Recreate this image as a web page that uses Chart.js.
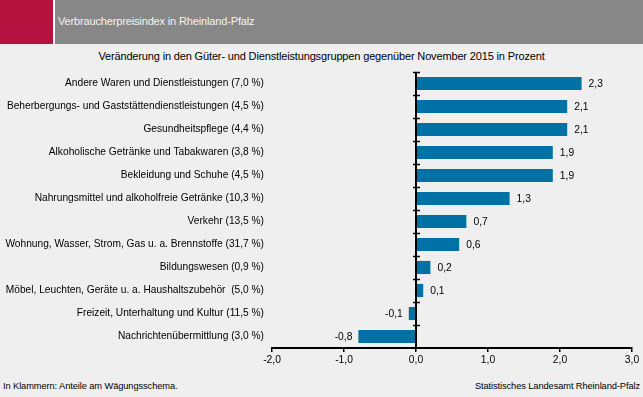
<!DOCTYPE html>
<html><head><meta charset="utf-8">
<script src="https://cdn.jsdelivr.net/npm/chart.js@4/dist/chart.umd.min.js"></script>
<style>
html,body{margin:0;padding:0;}
body{width:643px;height:397px;background:#eeefee;position:relative;overflow:hidden;font-family:"Liberation Sans",Arial,sans-serif;}
#hdr{position:absolute;left:55px;top:0;width:588px;height:44px;background:#878787;}
#red{position:absolute;left:0;top:0;width:53px;height:44px;background:#b5123f;}
#gap{position:absolute;left:53px;top:0;width:2px;height:44px;background:#ffffff;}
#htxt{position:absolute;left:58px;top:15px;font-size:11px;color:#f4f4f4;letter-spacing:-0.15px;}
#title{position:absolute;left:0;width:643px;text-align:center;top:50px;font-size:11px;color:#000;letter-spacing:-0.15px;}
#foot1{position:absolute;left:3px;top:381px;font-size:9.3px;color:#000;letter-spacing:-0.1px;}
#foot2{position:absolute;right:3px;top:381px;font-size:9.3px;color:#000;letter-spacing:-0.1px;}
canvas{position:absolute;left:0;top:0;}
</style></head>
<body>
<div id="red"></div><div id="gap"></div><div id="hdr"></div>
<div id="htxt">Verbraucherpreisindex in Rheinland-Pfalz</div>
<div id="title">Veränderung in den Güter- und Dienstleistungsgruppen gegenüber November 2015 in Prozent</div>
<div id="foot1">In Klammern: Anteile am Wägungsschema.</div>
<div id="foot2">Statistisches Landesamt Rheinland-Pfalz</div>
<canvas id="c" width="643" height="397"></canvas>
<script>
const categories = [
  "Andere Waren und Dienstleistungen (7,0 %)",
  "Beherbergungs- und Gaststättendienstleistungen (4,5 %)",
  "Gesundheitspflege (4,4 %)",
  "Alkoholische Getränke und Tabakwaren (3,8 %)",
  "Bekleidung und Schuhe (4,5 %)",
  "Nahrungsmittel und alkoholfreie Getränke (10,3 %)",
  "Verkehr (13,5 %)",
  "Wohnung, Wasser, Strom, Gas u. a. Brennstoffe (31,7 %)",
  "Bildungswesen (0,9 %)",
  "Möbel, Leuchten, Geräte u. a. Haushaltszubehör  (5,0 %)",
  "Freizeit, Unterhaltung und Kultur (11,5 %)",
  "Nachrichtenübermittlung (3,0 %)"
];
const values = [2.3, 2.1, 2.1, 1.9, 1.9, 1.3, 0.7, 0.6, 0.2, 0.1, -0.1, -0.8];
const xTicks = [-2, -1, 0, 1, 2, 3];

const fmt = v => v.toFixed(1).replace('.', ',');
const FONT = "'Liberation Sans', Arial, sans-serif";

const valueLabels = {
  id: 'valueLabels',
  afterDatasetsDraw(chart) {
    const ctx = chart.ctx;
    const meta = chart.getDatasetMeta(0);
    ctx.save();
    ctx.font = "10.3px " + FONT;
    ctx.fillStyle = '#000';
    ctx.textBaseline = 'middle';
    meta.data.forEach((bar, i) => {
      const v = values[i];
      if (v >= 0) { ctx.textAlign = 'left'; ctx.fillText(fmt(v), bar.x + 7, bar.y + 1); }
      else { ctx.textAlign = 'right'; ctx.fillText(fmt(v), bar.x - 6, bar.y + 1); }
    });
    ctx.restore();
  }
};

const zeroAxis = {
  id: 'zeroAxis',
  afterDatasetsDraw(chart) {
    const ctx = chart.ctx;
    const xs = chart.scales.x, ys = chart.scales.y;
    const x0 = Math.round(xs.getPixelForValue(0));
    ctx.save();
    ctx.strokeStyle = '#000';
    ctx.lineWidth = 2;
    ctx.beginPath();
    ctx.moveTo(x0, ys.top);
    ctx.lineTo(x0, ys.bottom);
    ctx.stroke();
    const n = categories.length;
    const step = (ys.bottom - ys.top) / n;
    ctx.lineWidth = 1.5;
    for (let i = 0; i < n; i++) {
      const y = Math.round(ys.top + i * step) + 0.5;
      ctx.beginPath();
      ctx.moveTo(x0 - 3, y);
      ctx.lineTo(x0 + 4, y);
      ctx.stroke();
    }
    ctx.restore();
  }
};

new Chart(document.getElementById('c'), {
  type: 'bar',
  data: {
    labels: categories,
    datasets: [{
      data: values,
      backgroundColor: '#0071a4',
      borderWidth: 0,
      categoryPercentage: 1,
      barPercentage: 0.57
    }]
  },
  options: {
    indexAxis: 'y',
    responsive: false,
    animation: false,
    devicePixelRatio: 1,
    layout: { padding: { top: 72, right: 11, left: 0, bottom: 0 } },
    plugins: { legend: { display: false }, tooltip: { enabled: false }, title: { display: false } },
    scales: {
      x: {
        type: 'linear',
        min: -2, max: 3,
        afterBuildTicks(scale) { scale.ticks = xTicks.map(v => ({ value: v })); },
        afterFit(scale) { scale.height = 49; },
        border: { display: true, color: '#000', width: 2 },
        grid: { display: true, drawOnChartArea: false, drawTicks: true, tickLength: 4, color: '#000', lineWidth: 1.5 },
        ticks: { color: '#000', font: { family: FONT, size: 10.3 }, padding: 2, callback: v => fmt(v), maxRotation: 0 }
      },
      y: {
        type: 'category',
        afterFit(scale) { scale.width = 272; },
        border: { display: false },
        grid: { display: false, drawTicks: false },
        ticks: { color: '#000', font: { family: FONT, size: 10.2 }, padding: 8, crossAlign: 'near' }
      }
    }
  },
  plugins: [valueLabels, zeroAxis]
});
</script>
</body></html>
